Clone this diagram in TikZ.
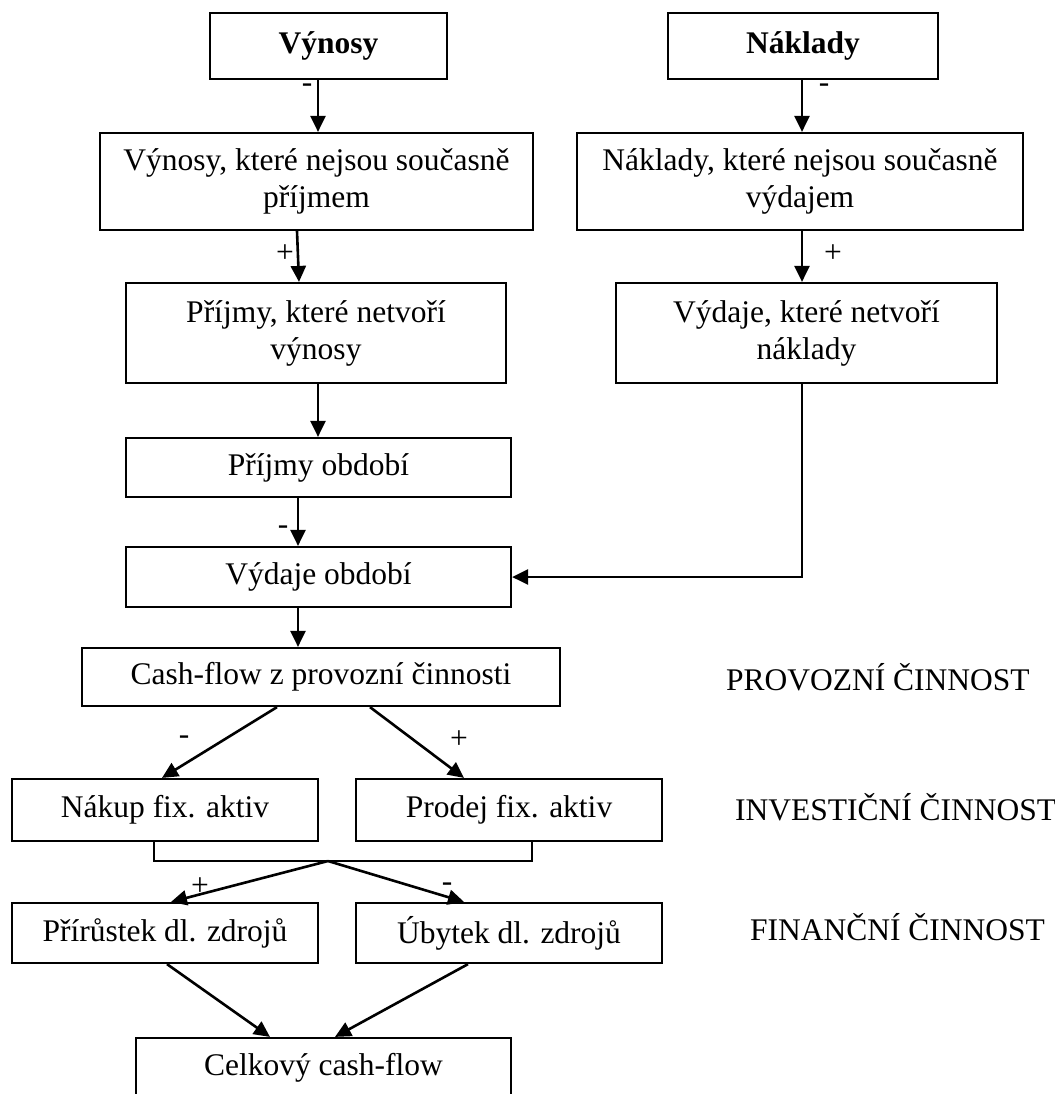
\documentclass[tikz,border=0pt]{standalone}
\usepackage{fontspec}
\setmainfont{Liberation Serif}
\usetikzlibrary{arrows.meta}
\newcommand\cffont{\fontsize{15.75pt}{18.5pt}\selectfont}

\begin{document}
\begin{tikzpicture}[
  x=0.5pt, y=-0.5pt,
  every node/.style={font=\cffont},
  box/.style={draw, line width=1.1pt, align=center, inner sep=0pt},
  arr/.style={line width=1.3pt, -{Triangle[length=8pt,width=7.5pt]}},
  sign/.style={inner sep=0pt}
]
  \useasboundingbox (0,0) rectangle (1055,1094);
  \clip (0,0) rectangle (1055,1094);

  % Výchozí veličiny
  \node[box, minimum width=118.5pt, minimum height=33pt] (vyn) at (328.5,46) {\textbf{Výnosy}};
  \node[box, minimum width=135pt, minimum height=33pt]   (nak) at (803,46)   {\textbf{Náklady}};

  % Úpravy o nepeněžní položky
  \node[box, minimum width=216.5pt, minimum height=48.5pt] (vynK) at (316.5,181.5)
    {Výnosy, které nejsou současně\\příjmem};
  \node[box, minimum width=223pt, minimum height=48.5pt]   (nakK) at (800,181.5)
    {Náklady, které nejsou současně\\výdajem};
  \node[box, minimum width=190pt, minimum height=50pt]     (prijN) at (316,333)
    {Příjmy, které netvoří\\výnosy};
  \node[box, minimum width=190.5pt, minimum height=50pt]   (vydN) at (806.5,333)
    {Výdaje, které netvoří\\náklady};

  % Peněžní toky období
  \node[box, minimum width=192.5pt, minimum height=29.5pt] (prijO) at (318.5,467.5) {Příjmy období};
  \node[box, minimum width=192.5pt, minimum height=30pt]   (vydO)  at (318.5,577)   {Výdaje období};
  \node[box, minimum width=239pt, minimum height=29pt]     (cfp)   at (321,677)     {Cash-flow z provozní činnosti};

  % Investiční a finanční činnost
  \node[box, minimum width=153pt, minimum height=31pt] (nakup)  at (165,810) {Nákup fix. aktiv};
  \node[box, minimum width=153pt, minimum height=31pt] (prodej) at (509,810) {Prodej fix. aktiv};
  \node[box, minimum width=153pt, minimum height=30pt] (prir)   at (165,933) {Přírůstek dl. zdrojů};
  \node[box, minimum width=153pt, minimum height=30pt] (ubyt)   at (509,933) {Úbytek dl. zdrojů};
  \node[box, minimum width=187.5pt, minimum height=30pt] (celk)  at (323.5,1068) {Celkový cash-flow};

  % Popisky činností
  \node[anchor=base west] (lprov) at (719,690) {PROVOZNÍ ČINNOST};
  \node[anchor=base west] (linv)  at (728,820) {INVESTIČNÍ ČINNOST};
  \node[anchor=base west] (lfin)  at (743,940) {FINANČNÍ ČINNOST};

  % Šipky levé větve
  \draw[arr] (vyn.south -| 318,0)   -- (vynK.north -| 318,0);
  \draw[arr] (vynK.south -| 297,0)  -- (prijN.north -| 299,0);
  \draw[arr] (prijN.south -| 318,0) -- (prijO.north -| 318,0);
  \draw[arr] (prijO.south -| 298,0) -- (vydO.north -| 298,0);
  \draw[arr] (vydO.south -| 298,0)  -- (cfp.north -| 298,0);

  % Šipky pravé větve
  \draw[arr] (nak.south -| 802,0)  -- (nakK.north -| 802,0);
  \draw[arr] (nakK.south -| 802,0) -- (vydN.north -| 802,0);
  \draw[arr] (vydN.south -| 802,0) |- (vydO.east);

  % Rozvětvení
  \draw[arr] (cfp.south -| 277,0) -- (nakup.north -| 162,0);
  \draw[arr] (cfp.south -| 370,0) -- (prodej.north -| 464,0);

  % Spojení investiční činnosti
  \coordinate (brk) at (328,861);
  \draw[line width=1.1pt] (nakup.south -| 154,0) -- (154,861) -- (532,861) -- (prodej.south -| 532,0);
  \draw[arr] (brk) -- (prir.north -| 171,0);
  \draw[arr] (brk) -- (ubyt.north -| 464,0);

  \draw[arr] (prir.south -| 167,0) -- (celk.north -| 270,0);
  \draw[arr] (ubyt.south -| 468,0) -- (celk.north -| 335,0);

  % Znaménka
  \node[sign] (s1) at (307,88)  {-};
  \node[sign] (s2) at (285,254) {+};
  \node[sign] (s3) at (824,88)  {-};
  \node[sign] (s4) at (833,254) {+};
  \node[sign] (s5) at (283,530) {-};
  \node[sign] (s6) at (184,740) {-};
  \node[sign] (s7) at (459,740) {+};
  \node[sign] (s8) at (200,887) {+};
  \node[sign] (s9) at (447,887) {-};
\end{tikzpicture}
\end{document}
